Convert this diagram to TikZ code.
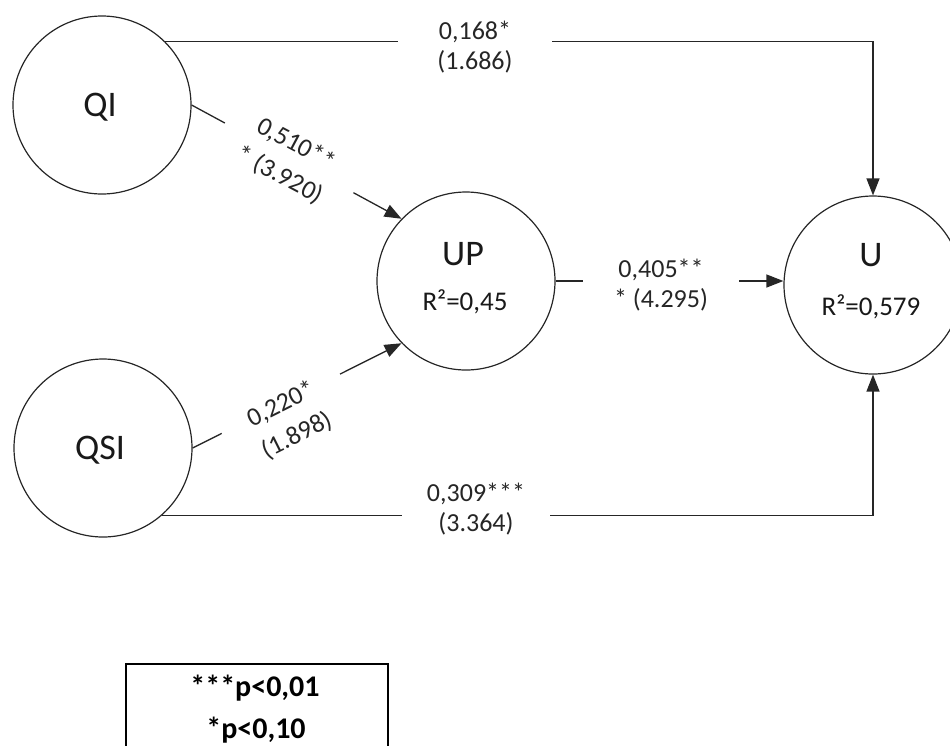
\documentclass[tikz,border=0pt]{standalone}
\usepackage{fontspec}
\setmainfont{Carlito}
\usetikzlibrary{arrows.meta}
\begin{document}
\begin{tikzpicture}[x=1pt,y=-1pt,
  latent/.style={circle,draw=black!85,line width=1.2pt,minimum size=178pt,inner sep=0pt},
  conn/.style={draw=black!85,line width=1.3pt},
  arr/.style={conn,-{Triangle[length=17pt,width=13pt]}},
  lbl/.style={fill=white,align=center,font=\fontsize{26}{30}\selectfont,inner sep=0pt,text=black!85},
  rlbl/.style={lbl,font=\fontsize{26}{35}\selectfont},
  big/.style={font=\fontsize{36}{40}\selectfont,text=black!90},
  rsq/.style={font=\fontsize{27}{30}\selectfont,text=black!90},
  legtxt/.style={font=\bfseries\fontsize{30}{34}\selectfont}]
\useasboundingbox (0,0) rectangle (950,745);
\clip (0,0) rectangle (950,745);

% latent variables
\node[latent] (QI) at (102,105) {};
\node[latent] (QSI) at (103,448) {};
\node[latent] (UP) at (466,281) {};
\node[latent] (U) at (873,285) {};

\node[big] (QIt) at (100,107) {QI};
\node[big] (QSIt) at (100,450) {QSI};
\node[big] (UPt) at (463,254) {UP};
\node[rsq] (UPr) at (465,302) {R²=0,45};
\node[big] (Ut) at (871,255) {U};
\node[rsq] (Ur) at (871,307) {R²=0,579};

% connectors
\draw[arr] (QI.east) -- (UP.136);
\draw[arr] (QSI.east) -- (UP.-136);
\draw[arr] (UP.east) -- (UP.east -| U.west);
\draw[arr] (QI.45) -| (U.north);
\draw[arr] (QSI.-49) -| (U.south);

% path labels
\node[lbl, minimum width=154pt] (l1) at (475,47) {0,168*\\(1.686)};
\node[lbl, minimum width=148pt] (l5) at (476,509) {0,309***\\(3.364)};
\node[lbl, minimum width=156pt] (l4) at (661,285) {0,405**\\* (4.295)};
\node[rlbl, minimum width=146pt, rotate=-28] (l2) at (288,160) {0,510**\\* (3.920)};
\node[rlbl, minimum width=132pt, rotate=26.5] (l3) at (289,420) {0,220*\\(1.898)};

% legend
\node[draw, line width=2.8pt, minimum width=262pt, minimum height=120pt, anchor=north west, inner sep=0pt] (leg) at (124.5,662.5) {};
\node[legtxt] (leg1) at (255,688) {***p<0,01};
\node[legtxt] (leg2) at (256,730) {*p<0,10};
\end{tikzpicture}
\end{document}
